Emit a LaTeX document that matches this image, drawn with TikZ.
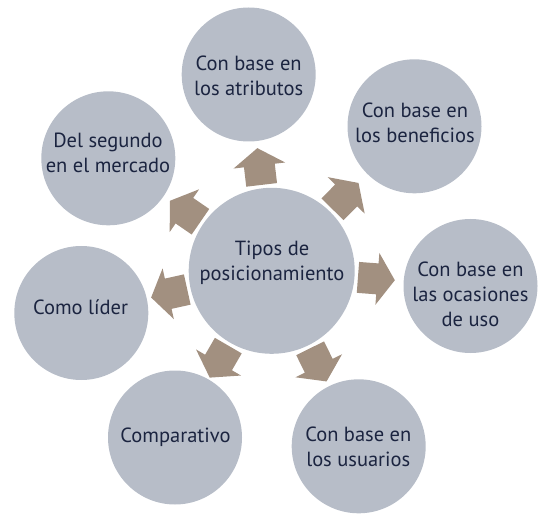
\documentclass[tikz,border=0pt]{standalone}
\usepackage{fontspec}
\setmainfont{PT Sans}
\usetikzlibrary{calc}
\definecolor{circfill}{RGB}{183,189,200}
\definecolor{arrowfill}{RGB}{162,144,128}
\definecolor{textc}{RGB}{27,36,64}
\begin{document}
\begin{tikzpicture}[x=1pt,y=1pt,
  bubble/.style={circle,fill=circfill,draw=none,inner sep=0pt,minimum size=134pt},
  hub/.style={circle,fill=circfill,draw=none,inner sep=0pt,minimum size=166pt},
  label/.style={align=center,text=textc,inner sep=0pt,font=\fontsize{20.5}{25}\selectfont},
  blockarrow/.style={fill=arrowfill,draw=none}]
\useasboundingbox (0,0) rectangle (546,520);
% circles
\node[hub] (c) at (271.7,249.2) {};
\node[bubble] (t) at (248.7,445.5) {};
\node[bubble] (tr) at (414.5,393.7) {};
\node[bubble] (r) at (470.5,234) {};
\node[bubble] (br) at (358.7,73.7) {};
\node[bubble] (b) at (175,82.5) {};
\node[bubble] (l) at (81.3,207) {};
\node[bubble] (tl) at (108.3,361.7) {};
% texts
\node[label] (ct) at (272,257) {Tipos de\\posicionamiento};
\node[label] (tt) at (248.7,444.2) {Con base en\\los atributos};
\node[label] (trt) at (415,397.5) {Con base en\\los beneficios};
\node[label] (rt) at (470.5,226) {Con base en\\las ocasiones\\de uso};
\node[label] (brt) at (358.3,73) {Con base en\\los usuarios};
\node[label] (bt) at (175.5,82.7) {Comparativo};
\node[label] (lt) at (80.5,212.5) {Como líder};
\node[label] (tlt) at (108,367) {Del segundo\\en el mercado};
% block arrows from hub to each bubble
\foreach \n in {t,tr,r,br,b,l,tl}{
  \pgfmathanglebetweenpoints{\pgfpointanchor{c}{center}}{\pgfpointanchor{\n}{center}}
  \let\ang\pgfmathresult
  \begin{scope}[shift={(c.center)},rotate=\ang]
    \fill[blockarrow] (86.5,-15.5) -- (106,-15.5) -- (106,-26) -- (123.5,0)
      -- (106,26) -- (106,15.5) -- (86.5,15.5) -- cycle;
  \end{scope}
}
\end{tikzpicture}
\end{document}
